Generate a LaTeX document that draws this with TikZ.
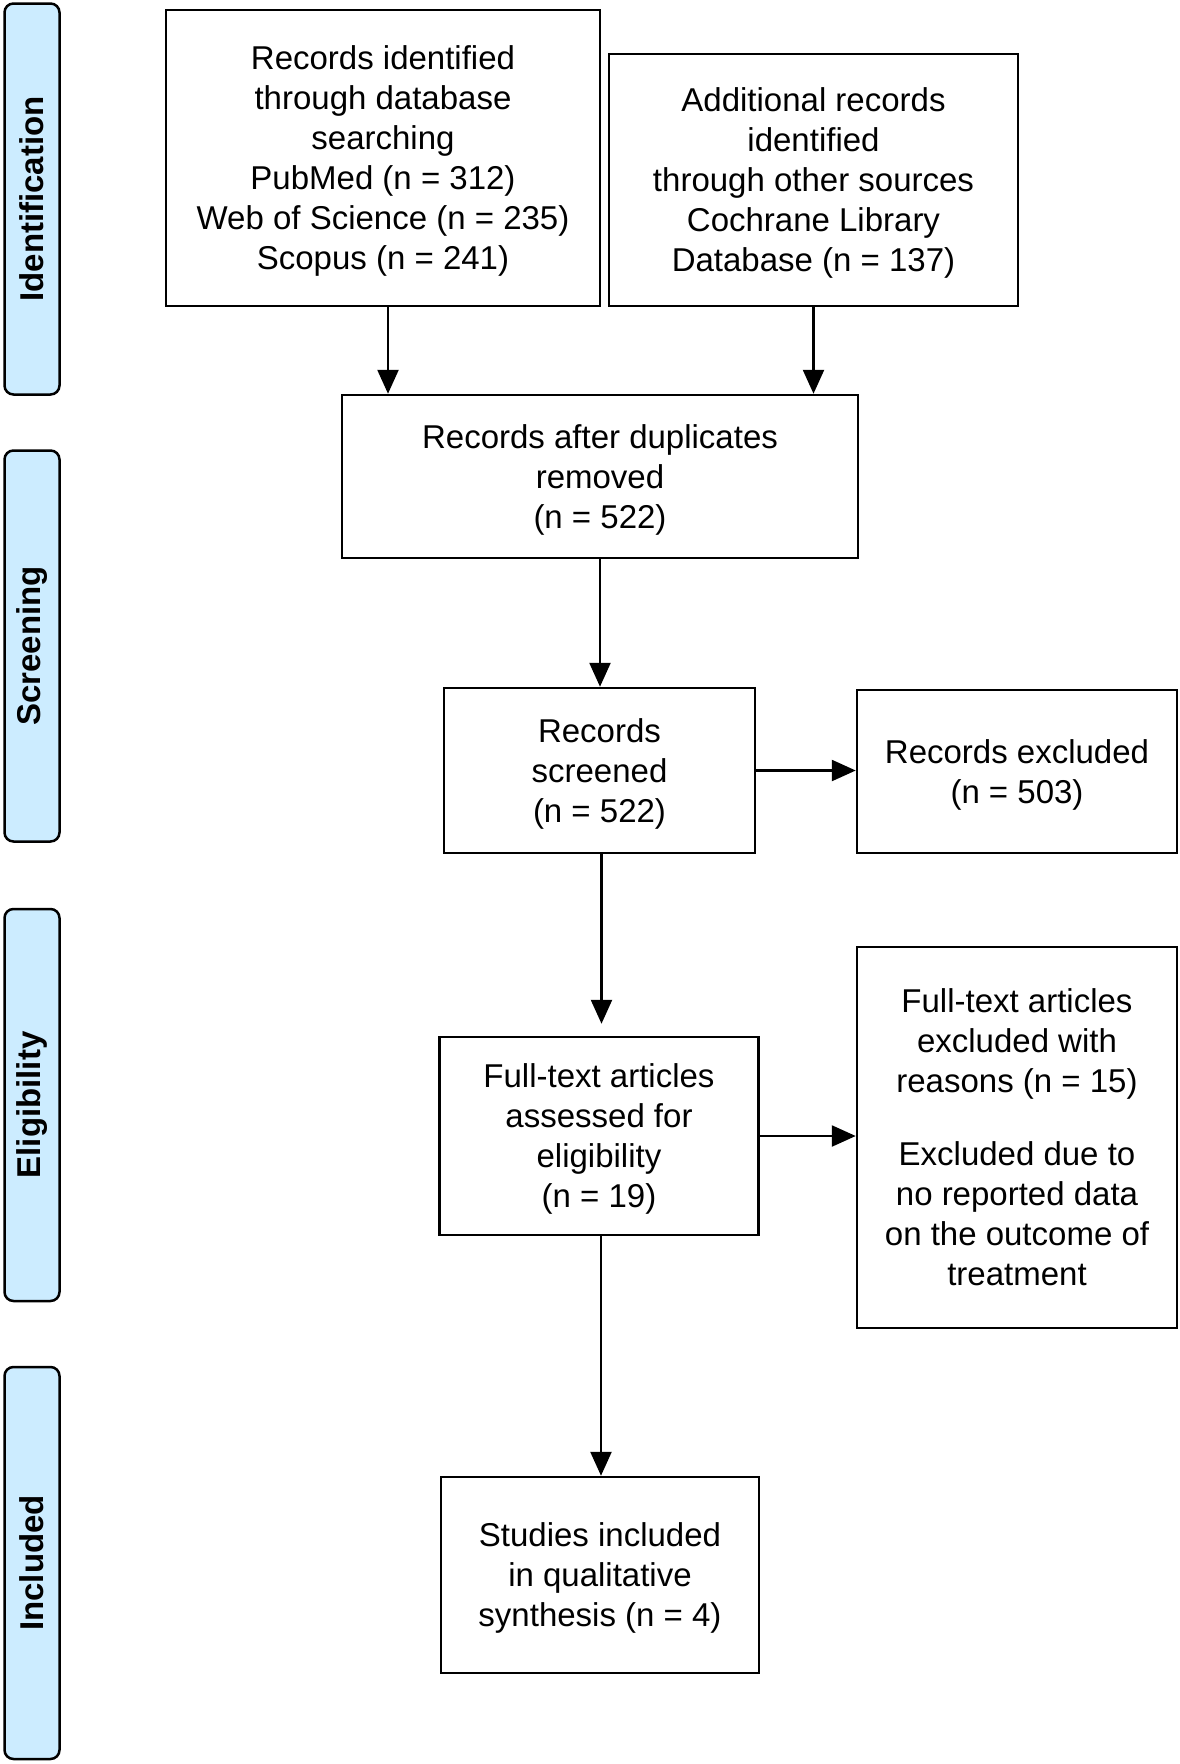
\documentclass[tikz,border=0pt]{standalone}
\usepackage{fontspec}
\setmainfont{Liberation Sans}
\usetikzlibrary{arrows.meta}
\definecolor{bandblue}{RGB}{204,236,255}
\begin{document}
\begin{tikzpicture}[x=1pt,y=-1pt,
  box/.style={draw=black, line width=2.5pt, align=center, inner sep=0pt,
    text depth=0pt, font=\fontsize{33}{40}\selectfont},
  band/.style={draw=black, fill=bandblue, line width=2.5pt, rounded corners=9pt,
    inner sep=0pt, rotate=90, minimum height=55pt,
    font=\fontsize{33}{40}\selectfont\bfseries},
  arr/.style={line width=2.5pt, -{Triangle[length=24pt,width=21pt]}}]
\useasboundingbox (0,0) rectangle (1180,1764);
\fill[white] (0,0) rectangle (1180,1764);

% phase bands
\node[band, minimum width=391pt] (idb) at (32,199) {Identification};
\node[band, minimum width=391pt] (scb) at (32,646) {Screening};
\node[band, minimum width=392pt] (elb) at (32,1105) {Eligibility};
\node[band, minimum width=392pt] (inb) at (32,1563) {Included};

% boxes
\node[box, minimum width=434pt, minimum height=296pt] (b1) at (383,158)
  {Records identified\\through database\\searching\\PubMed (n = 312)\\Web of Science (n = 235)\\Scopus (n = 241)};
\node[box, minimum width=409pt, minimum height=252pt] (b2) at (813.5,180)
  {Additional records\\identified\\through other sources\\Cochrane Library\\Database (n = 137)};
\node[box, minimum width=516pt, minimum height=163pt] (b3) at (600,476.5)
  {Records after duplicates\\removed\\(n = 522)};
\node[box, minimum width=311pt, minimum height=165pt] (b4) at (599.5,770.5)
  {Records\\screened\\(n = 522)};
\node[box, minimum width=320pt, minimum height=163pt] (b5) at (1017,771.5)
  {Records excluded\\(n = 503)};
\node[box, minimum width=319pt, minimum height=198pt] (b6) at (599,1136)
  {Full-text articles\\assessed for\\eligibility\\(n = 19)};
\node[box, minimum width=320pt, minimum height=381pt] (b7) at (1017,1137.5)
  {Full-text articles\\excluded with\\reasons (n = 15)\\[33pt]Excluded due to\\no reported data\\on the outcome of\\treatment};
\node[box, minimum width=318pt, minimum height=196pt] (b8) at (600,1575)
  {Studies included\\in qualitative\\synthesis (n = 4)};

% connectors
\draw[arr] ([xshift=5pt]b1.south) -- ([xshift=5pt]b1.south |- b3.north);
\draw[arr] (b2.south) -- (b2.south |- b3.north);
\draw[arr] (b3.south) -- (b3.south |- b4.north);
\draw[arr] (b4.east) -- (b4.east -| b5.west);
\draw[arr] ([xshift=2pt]b4.south) -- ([xshift=2pt,yshift=12pt]b4.south |- b6.north);
\draw[arr] (b6.east) -- (b6.east -| b7.west);
\draw[arr] ([xshift=2pt]b6.south) -- ([xshift=2pt]b6.south |- b8.north);
\end{tikzpicture}
\end{document}
